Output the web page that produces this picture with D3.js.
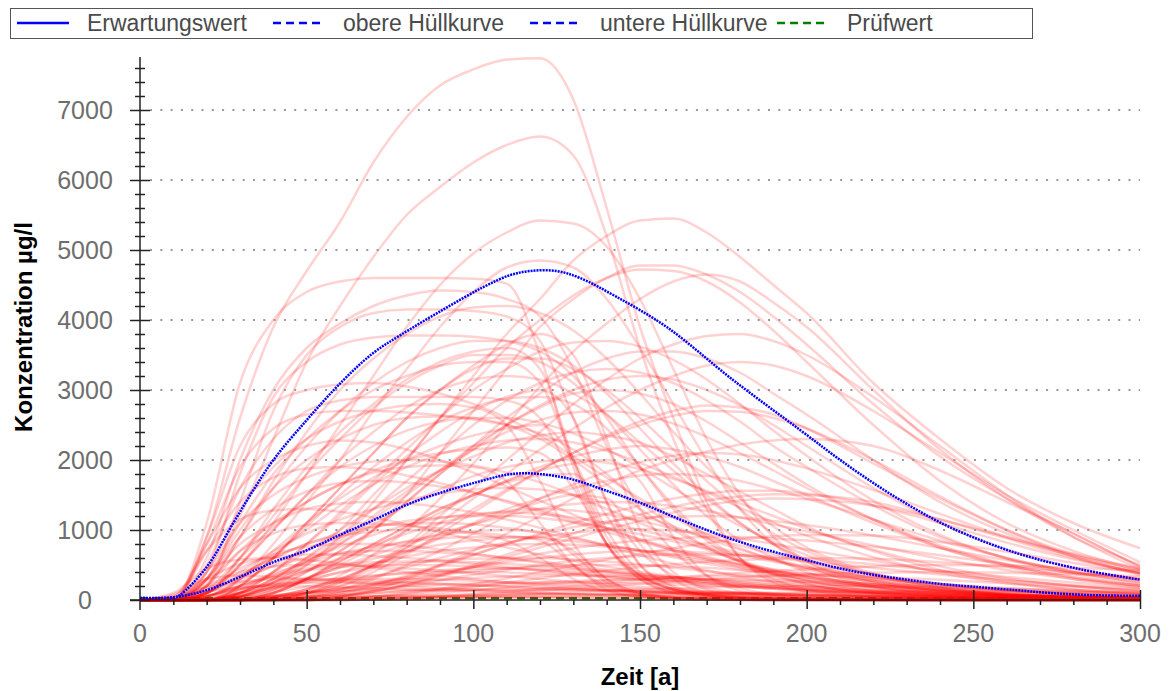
<!DOCTYPE html>
<html>
<head>
<meta charset="utf-8">
<script src="https://cdn.jsdelivr.net/npm/d3@7/dist/d3.min.js"></script>
<style>
  body { margin: 0; background: #fff; }
  text { font-family: "Liberation Sans", Arial, sans-serif; }
</style>
</head>
<body>
<svg id="chart" width="1169" height="691"></svg>
<script>
// sampling years of the realizations
var years = [0,10,20,30,40,50,60,70,80,90,100,110,120,130,140,150,160,170,180,190,200,220,240,260,280,300];

// single realizations (µg/l), one row per run
var runs = [
  [0,0,900,2600,3900,4700,5400,6250,6900,7350,7580,7720,7740,7150,5600,3900,2600,1400,600,250,120,50,25,15,10,5],
  [0,0,300,1200,2300,3400,4200,4900,5500,5900,6250,6500,6620,6350,5200,3600,2300,1300,600,300,150,60,30,15,10,5],
  [0,0,1100,3100,4000,4400,4550,4600,4600,4600,4590,4520,3500,1900,800,350,150,80,50,30,20,10,5,0,0,0],
  [0,0,200,1400,2700,3500,3900,4100,4150,4150,4130,4050,3700,2600,1400,700,350,180,100,60,40,20,10,5,0,0],
  [0,0,400,1800,2900,3400,3650,3750,3780,3780,3760,3700,3550,3200,2600,1900,1300,850,550,350,230,100,50,25,10,5],
  [0,0,100,500,1100,1800,2500,3200,3900,4500,4950,5250,5420,5380,5050,4300,3300,2300,1500,900,550,250,120,60,30,20],
  [0,0,50,300,800,1400,2000,2700,3300,3900,4400,4750,4850,4750,4300,3600,2800,2000,1300,800,500,200,100,50,25,10],
  [0,0,0,50,200,500,900,1400,2000,2600,3200,3800,4300,4850,5200,5420,5450,5250,4900,4500,4100,3100,2300,1600,1100,740],
  [0,0,0,0,100,300,600,1000,1500,2100,2700,3300,3900,4300,4600,4780,4780,4650,4400,4050,3650,2800,2050,1450,950,480],
  [0,0,0,100,300,600,1000,1500,2000,2600,3100,3600,4000,4350,4600,4720,4700,4550,4250,3850,3400,2500,1700,1100,700,420],
  [0,0,0,0,0,100,250,500,800,1200,1600,2000,2400,2800,3150,3450,3650,3770,3800,3700,3500,2900,2200,1500,900,440],
  [0,0,0,50,200,400,700,1000,1400,1800,2200,2600,2950,3250,3450,3550,3550,3450,3250,2950,2650,2000,1400,950,620,380],
  [0,0,0,100,300,600,900,1300,1700,2100,2500,2850,3100,3250,3300,3250,3100,2850,2550,2200,1900,1350,900,600,400,250],
  [0,0,0,0,50,150,350,650,1000,1450,1950,2500,3050,3550,3950,4300,4550,4650,4550,4250,3900,3000,2150,1450,900,500],
  [0,0,200,900,1600,2200,2700,3100,3400,3600,3700,3700,3600,3350,2950,2450,1950,1500,1100,800,550,270,130,60,30,15],
  [0,0,100,600,1200,1800,2300,2750,3100,3350,3500,3500,3400,3100,2650,2150,1650,1200,850,600,400,180,80,40,20,10],
  [0,0,0,200,600,1100,1600,2100,2600,3000,3300,3450,3450,3300,3000,2600,2150,1700,1300,950,700,350,170,80,40,20],
  [0,0,300,1100,1800,2300,2700,3000,3200,3350,3400,3400,3100,2000,900,350,150,70,40,20,10,5,0,0,0,0],
  [0,0,0,200,600,1100,1600,2100,2600,3000,3350,3650,3800,3500,2300,1000,400,150,60,30,15,5,0,0,0,0],
  [0,0,500,1600,2300,2700,2850,2900,2900,2900,2900,2850,2600,1700,800,350,150,70,30,15,10,5,0,0,0,0],
  [0,0,0,0,150,400,700,1000,1400,1800,2150,2500,2750,2950,3000,2950,2800,2550,2250,1950,1650,1150,750,480,300,180],
  [0,0,0,0,0,100,200,400,650,950,1250,1550,1850,2100,2350,2550,2700,2780,2750,2650,2450,1950,1450,1000,650,400],
  [0,0,100,500,1000,1500,2000,2400,2750,3000,3150,3200,3150,2950,2650,2250,1850,1450,1100,800,580,300,150,70,35,15],
  [0,0,300,1000,1600,2000,2300,2500,2600,2620,2600,2500,2300,2000,1650,1300,1000,750,550,400,280,140,70,35,15,10],
  [0,0,0,150,400,700,1000,1300,1600,1850,2050,2250,2350,2400,2350,2250,2050,1800,1550,1300,1050,700,430,260,150,90],
  [0,0,0,0,100,300,500,750,1000,1250,1500,1700,1900,2050,2150,2200,2150,2050,1900,1700,1500,1100,750,500,320,200],
  [0,0,400,1100,1500,1750,1900,1980,2000,1980,1920,1820,1680,1500,1300,1100,900,720,560,430,330,190,100,55,30,15],
  [0,0,0,300,700,1100,1450,1750,2000,2200,2350,2450,2500,2000,1000,400,150,60,25,10,5,0,0,0,0,0],
  [0,0,200,700,1100,1400,1650,1850,2000,2100,2150,2180,2100,1600,800,300,120,50,20,10,5,0,0,0,0,0],
  [0,0,0,0,50,150,300,500,700,900,1100,1300,1450,1600,1700,1780,1800,1770,1700,1580,1450,1150,850,600,400,260],
  [0,0,100,400,700,950,1150,1300,1420,1520,1580,1600,1580,1500,1380,1220,1050,880,720,580,460,280,160,90,50,25],
  [0,0,0,0,0,0,50,120,220,350,500,650,800,950,1100,1220,1330,1420,1480,1510,1500,1400,1150,880,600,380],
  [0,0,300,800,1100,1300,1380,1400,1380,1330,1250,1150,1030,900,770,640,520,420,330,260,200,110,60,30,15,8],
  [0,0,0,100,250,420,600,780,950,1100,1200,1270,1300,1280,1220,1130,1020,900,780,660,550,370,230,140,80,50],
  [0,0,0,0,0,50,120,220,350,500,650,800,930,1040,1120,1170,1190,1200,1180,1130,1070,920,740,570,420,300],
  [0,0,100,350,600,800,950,1050,1090,1100,1080,1030,960,880,790,700,610,520,440,370,300,200,120,70,40,20],
  [0,0,0,0,100,300,550,800,1050,1300,1500,1680,1780,1800,1200,500,200,80,30,10,5,0,0,0,0,0],
  [0,0,0,100,400,800,1200,1650,2050,2400,2700,2900,3000,2600,1400,500,180,70,30,10,5,0,0,0,0,0],
  [0,0,0,0,30,100,200,330,470,600,720,820,900,960,1000,1010,990,950,880,800,720,560,410,290,200,130],
  [0,0,50,200,380,530,660,760,830,880,900,900,880,840,780,710,630,550,470,400,330,220,140,80,50,30],
  [0,0,0,50,150,270,400,520,620,700,750,790,800,790,760,710,650,580,510,440,380,270,180,120,80,50],
  [0,0,100,300,480,600,670,700,700,680,650,600,550,490,430,370,310,260,210,170,140,90,50,30,15,10],
  [0,0,0,0,0,30,70,130,200,280,360,430,500,560,600,630,650,650,640,620,590,510,420,330,250,180],
  [0,0,0,80,180,290,390,470,530,570,590,600,600,580,550,510,460,410,360,310,260,180,120,80,50,30],
  [0,0,200,400,480,500,500,480,450,420,380,340,300,260,220,190,160,130,110,90,70,45,25,15,10,5],
  [0,0,0,0,40,100,160,230,300,360,410,450,480,495,500,495,480,460,430,400,370,300,230,170,120,80],
  [0,0,30,100,180,250,310,350,380,395,400,395,380,360,330,300,270,240,210,180,150,100,65,40,25,15],
  [0,0,0,0,0,0,20,40,70,100,140,180,220,250,280,300,320,335,345,350,350,330,290,240,190,150],
  [0,0,50,150,230,280,300,305,300,290,275,255,235,210,185,160,140,120,100,85,70,45,28,17,10,6],
  [0,0,0,20,50,90,130,165,195,220,235,245,250,250,245,235,220,205,190,170,150,115,85,60,40,28],
  [0,0,100,350,600,800,920,980,1000,990,950,850,600,300,120,50,20,10,5,0,0,0,0,0,0,0],
  [0,0,0,0,50,150,300,480,680,880,1080,1250,1400,1500,1450,800,300,100,40,15,5,0,0,0,0,0],
  [0,0,0,0,0,50,150,300,500,700,950,1200,1450,1650,1830,1970,2060,2100,2080,2000,1880,1570,1230,900,640,440],
  [0,0,0,50,250,550,850,1200,1550,1850,2150,2400,2570,2680,2700,2650,2520,2330,2100,1850,1600,1150,780,510,330,210],
  [0,0,0,100,400,800,1250,1700,2150,2600,3000,3300,3550,3680,3700,3620,3430,3150,2800,2420,2060,1420,930,590,370,230],
  [0,0,0,0,0,100,250,450,750,1100,1450,1800,2150,2450,2750,3000,3200,3350,3400,3350,3200,2700,2100,1500,1000,540],
  [0,0,200,900,1700,2400,3000,3450,3800,4050,4180,4200,4100,3850,3450,2950,2400,1900,1450,1050,750,380,180,80,40,20],
  [0,0,900,2200,2800,3000,3080,3100,3050,2950,2800,2600,2350,2050,1750,1450,1180,940,740,570,440,250,140,75,40,20],
  [0,50,800,1600,2000,2200,2280,2250,2150,2000,1820,1620,1420,1220,1030,860,710,580,470,380,300,180,100,55,30,15],
  [0,0,0,0,0,0,50,150,300,500,700,950,1200,1450,1650,1850,2000,2120,2220,2280,2300,2200,1850,1400,950,470],
  [0,20,120,180,200,195,185,170,155,140,125,110,95,82,70,60,50,42,35,29,24,16,10,6,4,2],
  [0,0,0,10,30,55,80,100,120,135,145,150,150,147,140,130,120,110,98,86,75,56,40,28,19,13],
  [0,0,0,0,0,5,12,22,34,46,58,68,77,85,91,96,99,100,100,98,95,86,74,62,50,40],
  [0,100,450,580,600,570,520,460,400,345,295,250,210,175,145,120,98,80,65,52,42,27,17,10,6,4],
  [0,0,0,40,110,190,270,340,390,425,445,450,440,420,390,355,320,285,250,218,188,138,98,68,46,31],
  [0,0,0,0,10,30,60,95,130,165,195,225,250,270,285,295,300,298,290,280,265,230,190,150,115,85],
  [0,0,150,450,650,760,800,800,770,720,660,600,530,460,400,340,285,238,196,160,130,84,53,33,20,12],
  [0,0,50,250,500,720,900,1040,1130,1180,1200,1200,1170,1110,1030,940,840,740,640,550,460,320,210,135,85,52],
  [0,80,300,350,330,300,265,230,200,170,145,122,102,85,70,58,48,39,32,26,21,14,9,5,3,2],
  [0,0,0,0,30,90,160,240,320,400,470,540,600,650,685,700,695,675,640,600,555,460,365,280,210,155],
  [0,0,0,60,180,320,460,590,700,790,850,890,900,700,300,100,40,15,5,0,0,0,0,0,0,0],
  [0,0,150,600,1050,1400,1650,1820,1900,1920,1900,1700,1100,500,200,80,30,10,5,0,0,0,0,0,0,0],
  [0,0,50,200,350,450,510,540,550,550,540,515,485,450,410,370,330,290,255,220,190,140,100,70,48,32],
  [0,0,60,160,220,245,250,245,235,222,208,192,176,160,144,129,115,102,90,79,69,52,39,29,21,15],
  [0,0,0,0,0,30,100,200,330,480,640,800,950,1100,1230,1350,1450,1520,1560,1560,1520,1350,1100,820,580,390],
  [0,50,700,1150,1280,1300,1260,1180,1080,970,860,750,650,560,475,400,335,280,232,192,158,106,70,46,30,20],
  [0,0,400,1300,1900,2300,2550,2700,2780,2800,2750,2500,1700,800,300,100,40,15,5,0,0,0,0,0,0,0],
  [0,0,100,600,1300,1900,2400,2800,3150,3400,3550,3600,3300,2000,800,300,100,40,15,5,0,0,0,0,0,0],
  [0,0,0,0,0,0,20,50,100,160,230,310,400,490,580,660,740,810,870,910,930,920,830,690,530,380],
  [0,0,0,0,0,0,0,10,25,45,70,100,130,165,200,235,265,295,320,345,365,390,400,390,370,340],
  [0,0,0,100,300,550,800,1080,1350,1580,1770,1900,1980,2000,1960,1870,1730,1560,1380,1200,1020,720,480,310,200,120],
  [0,0,600,2000,3000,3600,3950,4200,4350,4420,4400,4300,4050,3300,2200,1300,700,350,170,80,40,15,5,0,0,0],
  [0,0,0,0,30,120,280,500,750,1020,1300,1580,1850,2100,2320,2500,2630,2700,2690,2600,2450,2000,1480,1000,620,360],
  [0,0,300,900,1300,1550,1670,1700,1680,1620,1530,1420,1290,1150,1010,870,740,620,510,420,340,220,140,85,50,30],
  [0,0,50,300,650,1000,1350,1650,1900,2080,2200,2280,2300,2250,2130,1960,1760,1540,1320,1110,920,610,390,240,150,90],
  [0,0,0,50,150,300,470,640,800,950,1080,1200,1300,1370,1400,1390,1340,1270,1180,1080,980,780,590,430,300,210],
  [0,0,250,700,950,1070,1100,1090,1060,1020,970,920,850,500,150,50,20,5,0,0,0,0,0,0,0,0],
  [0,0,100,500,1000,1500,1900,2200,2420,2550,2600,2600,2530,2380,2160,1890,1600,1320,1060,830,640,360,190,100,50,25],
  [0,0,0,50,250,500,800,1150,1500,1850,2200,2500,2780,3000,3150,3200,3150,3000,2780,2500,2200,1600,1100,720,460,290],
  [0,0,0,0,0,40,100,180,270,370,470,570,660,740,800,850,880,900,900,880,850,760,640,510,390,290],
  [0,0,0,0,0,0,20,50,90,140,190,250,310,370,420,470,510,545,570,590,600,590,540,470,390,310],
  [0,0,700,1400,1750,1880,1900,1860,1780,1670,1540,1400,1260,1110,970,840,710,600,500,410,340,220,140,85,50,30],
  [0,0,0,150,350,560,760,930,1070,1170,1230,1250,1230,1180,1100,1000,890,780,670,570,480,330,220,140,90,55],
  [0,0,0,0,0,0,0,10,20,35,50,70,90,110,130,150,165,180,190,197,200,198,185,165,140,115],
  [0,0,10,40,75,105,125,140,148,150,150,147,142,135,127,118,108,98,88,78,70,55,42,32,24,18],
  [0,0,0,0,0,0,0,5,10,18,26,35,45,55,65,75,83,91,98,104,109,116,120,119,115,108],
  [0,0,0,5,15,28,40,52,62,70,75,78,80,80,80,79,77,74,70,66,62,54,45,37,30,24],
  [0,0,0,20,60,110,160,210,255,290,315,335,345,350,345,335,320,300,280,258,236,195,158,125,98,76],
  [0,0,60,200,330,420,470,495,500,495,480,455,425,390,355,320,285,252,222,194,168,126,92,66,47,33],
  [0,0,0,0,100,300,550,800,1050,1300,1500,1700,1850,1950,2000,1700,900,350,130,50,20,5,0,0,0,0],
  [0,0,0,200,600,1050,1500,1900,2250,2550,2750,2880,2900,2800,2450,1900,1350,900,580,370,230,90,40,15,5,0],
  [0,0,0,0,0,0,0,10,30,55,85,120,160,200,240,280,320,355,385,415,440,480,500,490,460,420],
  [0,0,800,1900,2450,2650,2700,2700,2680,2640,2580,2500,2380,2150,1800,1400,1050,760,540,380,270,130,60,30,15,5],
  [0,0,0,0,0,0,50,120,220,340,470,610,750,880,1010,1130,1250,1350,1420,1450,1440,1350,1150,900,660,450],
  [0,0,0,100,250,420,580,720,840,930,980,1000,970,650,250,80,30,10,0,0,0,0,0,0,0,0],
  [0,30,300,520,610,650,650,630,600,560,515,470,420,375,330,290,252,218,188,160,137,98,69,48,33,23],
  [0,40,180,260,295,300,290,275,255,235,213,192,172,153,135,119,104,91,79,68,59,44,32,23,17,12],
  [0,5,25,40,50,55,57,57,55,52,49,46,42,39,35,32,29,26,23,21,19,15,12,9,7,5],
  [0,0,0,5,12,20,28,34,38,40,40,39,37,35,32,30,27,25,22,20,18,14,11,8,6,5]
];

// envelope curves
var upperYears = [0,10,12,20,28,34,40,50,61,70,78,91,103,111,117,125,132,143,158,178,198,213,228,243,263,283,300];
var upperVals  = [30,30,70,470,1100,1570,2000,2570,3140,3530,3780,4150,4470,4640,4700,4700,4600,4330,3900,3140,2430,1900,1430,1040,670,430,290];
var lowerYears = [0,10,20,30,40,50,60,70,80,90,100,110,115,120,126,130,140,150,160,170,180,190,200,210,220,230,240,250,263,273,285,300];
var lowerVals  = [30,40,140,330,540,710,930,1140,1360,1530,1670,1790,1810,1800,1760,1720,1560,1390,1190,1000,830,690,570,450,360,290,230,190,140,100,70,60];

var pruefwert = 25;

var xTicks = [0,50,100,150,200,250,300];
var yTicks = [0,1000,2000,3000,4000,5000,6000,7000];

var legendItems = [
  {label: "Erwartungswert",   color: "#0000ff", dash: null,  x: 17},
  {label: "obere Hüllkurve",  color: "#0000ff", dash: "8,5", x: 273},
  {label: "untere Hüllkurve", color: "#0000ff", dash: "8,5", x: 530},
  {label: "Prüfwert",         color: "#008000", dash: "8,5", x: 777}
];

var svg = d3.select("#chart");

var x = d3.scaleLinear().domain([0, 300]).range([140, 1140]);
var y = d3.scaleLinear().domain([0, 7000]).range([600, 110]);

// legend
svg.append("rect")
  .attr("x", 10.5).attr("y", 8.5)
  .attr("width", 1022).attr("height", 30)
  .attr("fill", "#fff")
  .attr("stroke", "#555");

var leg = svg.selectAll(".leg").data(legendItems).enter().append("g");
leg.append("line")
  .attr("x1", function(d) { return d.x; })
  .attr("x2", function(d) { return d.x + 52; })
  .attr("y1", 23).attr("y2", 23)
  .attr("stroke", function(d) { return d.color; })
  .attr("stroke-width", 2.5)
  .attr("stroke-dasharray", function(d) { return d.dash; });
leg.append("text")
  .attr("x", function(d) { return d.x + 70; })
  .attr("y", 31)
  .style("font-size", "23px")
  .style("fill", "#4a4a4a")
  .text(function(d) { return d.label; });

// Prüfwert
svg.append("line")
  .attr("x1", x(0)).attr("x2", x(300))
  .attr("y1", y(pruefwert)).attr("y2", y(pruefwert))
  .attr("stroke", "#008000")
  .attr("stroke-width", 2.5)
  .attr("stroke-dasharray", "8,5");

// realizations
var line = d3.line()
  .x(function(d, i) { return x(years[i]); })
  .y(function(d) { return y(d); })
  .curve(d3.curveMonotoneX);

svg.append("g")
  .selectAll("path")
  .data(runs)
  .enter()
  .append("path")
  .attr("d", line)
  .attr("fill", "none")
  .attr("stroke", "rgba(255,0,0,0.18)")
  .attr("stroke-width", 2.5)
  .attr("stroke-linejoin", "round");

// dotted grid
svg.append("g")
  .selectAll("line")
  .data(yTicks.slice(1))
  .enter()
  .append("line")
  .attr("x1", x(0) + 10).attr("x2", x(300))
  .attr("y1", function(d) { return y(d); })
  .attr("y2", function(d) { return y(d); })
  .attr("stroke", "#999")
  .attr("stroke-width", 2)
  .attr("stroke-dasharray", "2,8.3");

// envelopes
var envLine = d3.line()
  .x(function(d) { return x(d[0]); })
  .y(function(d) { return y(d[1]); })
  .curve(d3.curveCatmullRom);

[[upperYears, upperVals], [lowerYears, lowerVals]].forEach(function(e) {
  svg.append("path")
    .datum(d3.zip(e[0], e[1]))
    .attr("d", envLine)
    .attr("fill", "none")
    .attr("stroke", "#0000ff")
    .attr("stroke-width", 2.5)
    .attr("stroke-dasharray", "2,1");
});

// y axis
var yAxis = d3.axisLeft(y)
  .tickValues(d3.range(0, 7601, 200))
  .tickSize(0)
  .tickFormat("");
var gy = svg.append("g").attr("transform", "translate(140,0)").call(yAxis);
gy.select(".domain").remove();
svg.append("line")
  .attr("x1", 140).attr("x2", 140)
  .attr("y1", 57).attr("y2", 610)
  .attr("stroke", "#222").attr("stroke-width", 1.5);
gy.selectAll(".tick line")
  .attr("x1", function(d) { return d % 1000 === 0 ? -10 : -5; })
  .attr("x2", function(d) { return d % 1000 === 0 ? 10 : 5; })
  .attr("stroke", "#222").attr("stroke-width", 1.5);

svg.append("g")
  .selectAll("text")
  .data(yTicks)
  .enter()
  .append("text")
  .attr("x", 85)
  .attr("y", function(d) { return y(d) + 9; })
  .attr("text-anchor", "middle")
  .style("font-size", "25px")
  .style("fill", "#6e6e6e")
  .text(function(d) { return d; });

// x axis
var xAxis = d3.axisBottom(x)
  .tickValues(d3.range(10, 301, 10))
  .tickSize(5)
  .tickFormat("");
var gx = svg.append("g").attr("transform", "translate(0,600)").call(xAxis);
gx.select(".domain").remove();
gx.selectAll(".tick line")
  .attr("y1", function(d) { return d % 50 === 0 ? -10 : 0; })
  .attr("y2", function(d) { return d % 50 === 0 ? 9 : 5; })
  .attr("stroke", "#222").attr("stroke-width", 1.5);
svg.append("line")
  .attr("x1", 130).attr("x2", 1141)
  .attr("y1", 600).attr("y2", 600)
  .attr("stroke", "#222").attr("stroke-width", 1.5);

svg.append("g")
  .selectAll("text")
  .data(xTicks)
  .enter()
  .append("text")
  .attr("x", function(d) { return x(d); })
  .attr("y", 642)
  .attr("text-anchor", "middle")
  .style("font-size", "25px")
  .style("fill", "#6e6e6e")
  .text(function(d) { return d; });

// axis titles
svg.append("text")
  .attr("x", 640)
  .attr("y", 685)
  .attr("text-anchor", "middle")
  .style("font-size", "24px")
  .style("font-weight", "bold")
  .text("Zeit [a]");

svg.append("text")
  .attr("transform", "translate(32,327)rotate(-90)")
  .attr("text-anchor", "middle")
  .style("font-size", "24px")
  .style("font-weight", "bold")
  .text("Konzentration µg/l");
</script>
</body>
</html>
